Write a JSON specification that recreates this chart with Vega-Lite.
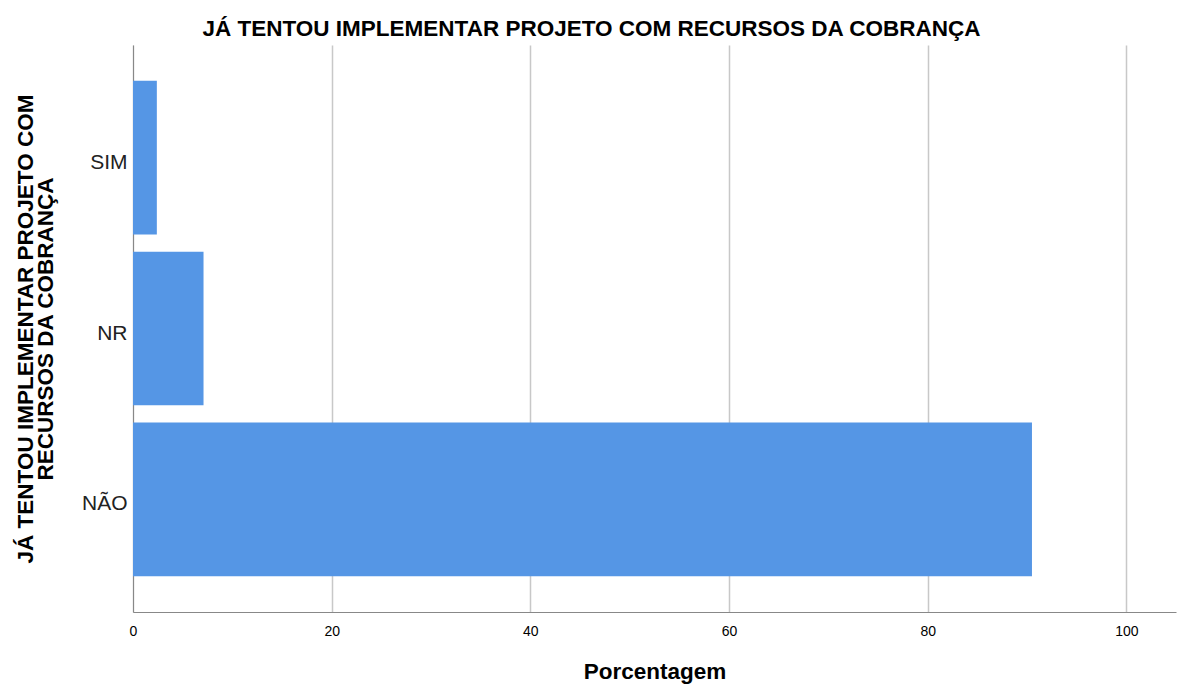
{
  "$schema": "https://vega.github.io/schema/vega-lite/v6.json",
  "autosize": {"type": "none"},
  "width": 1043,
  "height": 567,
  "padding": {"left": 133, "top": 45, "right": 2, "bottom": 72},
  "background": "white",
  "title": {
    "text": "JÁ TENTOU IMPLEMENTAR PROJETO COM RECURSOS DA COBRANÇA",
    "font": "Liberation Sans",
    "fontSize": 22.5,
    "fontWeight": "bold",
    "color": "#000000",
    "anchor": "middle",
    "dx": -63,
    "offset": 5
  },
  "data": {
    "values": [
      {"resposta": "SIM", "porcentagem": 2.4},
      {"resposta": "NR", "porcentagem": 7.1},
      {"resposta": "NÃO", "porcentagem": 90.5}
    ]
  },
  "mark": {"type": "bar", "color": "#5596e5"},
  "encoding": {
    "y": {
      "field": "resposta",
      "type": "nominal",
      "sort": ["SIM", "NR", "NÃO"],
      "scale": {"paddingInner": 0.1, "paddingOuter": 0.21},
      "axis": {
        "title": ["JÁ TENTOU IMPLEMENTAR PROJETO COM", "RECURSOS DA COBRANÇA"],
        "titleFont": "Liberation Sans",
        "titleFontSize": 22.5,
        "titleFontWeight": "bold",
        "titleColor": "#000000",
        "titleLineHeight": 20,
        "titlePadding": 24,
        "labelFont": "Liberation Sans",
        "labelFontSize": 21,
        "labelColor": "#222222",
        "labelPadding": 6,
        "labelOffset": 5,
        "ticks": false,
        "domainColor": "#888888",
        "grid": false
      }
    },
    "x": {
      "field": "porcentagem",
      "type": "quantitative",
      "scale": {"domain": [0, 105], "nice": false},
      "axis": {
        "title": "Porcentagem",
        "values": [0, 20, 40, 60, 80, 100],
        "titleFont": "Liberation Sans",
        "titleFontSize": 22.5,
        "titleFontWeight": "bold",
        "titleColor": "#000000",
        "titlePadding": 22,
        "labelFont": "Liberation Sans",
        "labelFontSize": 14,
        "labelColor": "#000000",
        "labelPadding": 12,
        "labelFlush": false,
        "ticks": false,
        "domainColor": "#888888",
        "grid": true,
        "gridColor": "#c8c8c8",
        "gridWidth": 1.5
      }
    }
  },
  "config": {"view": {"stroke": null}}
}
